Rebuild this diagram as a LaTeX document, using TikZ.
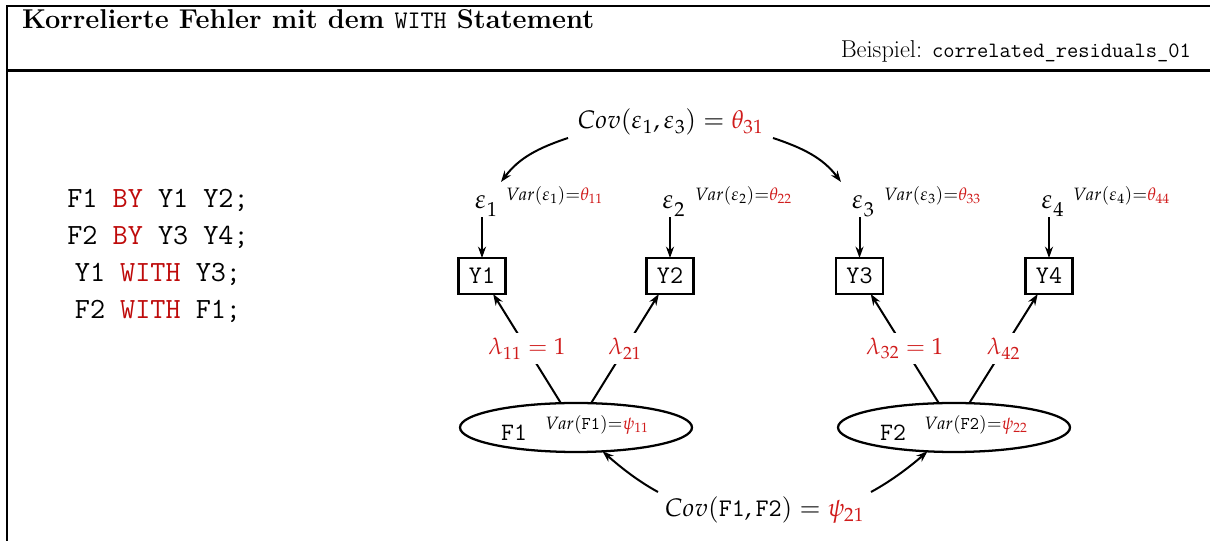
\documentclass[tikz,border=0pt]{standalone}
\usepackage{mathpazo}
\renewcommand{\rmdefault}{lmr}
\renewcommand{\ttdefault}{lmtt}
\usetikzlibrary{shapes.geometric,arrows.meta,calc}
\definecolor{codered}{RGB}{190,10,10}
\definecolor{parred}{RGB}{208,28,28}
\newcommand{\fsz}[1]{\fontsize{#1}{1.2\dimexpr #1\relax}\selectfont}
\begin{document}
\begin{tikzpicture}[x=0.75pt,y=0.75pt,
  every node/.style={inner sep=0pt, outer sep=0pt},
  frame/.style={line width=2.2pt},
  arr/.style={line width=1.5pt, -{Stealth[length=8.5pt,width=6pt]}},
  obs/.style={draw, line width=1.7pt, minimum width=35.25pt, minimum height=27pt,
    font=\fsz{19pt}\ttfamily},
  lat/.style={draw, ellipse, line width=1.7pt, minimum width=174pt, minimum height=36.75pt},
  lab/.style={fill=white, inner sep=4pt, text=parred, font=\fsz{17.5pt}},
  eps/.style={anchor=base west, font=\fsz{20pt}},
  var/.style={anchor=west, font=\fsz{13.4pt}},
  code/.style={font=\fsz{22pt}\ttfamily},
]
\useasboundingbox (0,0) rectangle (1210,541);

% frame and header
\draw[frame, line join=miter] (7,0) -- (7,535) -- (1210,535);
\draw[frame] (7,470.5) -- (1210,470.5);
\node[anchor=base west, font=\fsz{20.4pt}\bfseries] (title) at (22,512.7)
  {Korrelierte Fehler mit dem {\mdseries\fsz{19pt}\ttfamily WITH} Statement};
\node[anchor=base east, font=\fsz{18.3pt}] (bsp) at (1191,483.5)
  {Beispiel: {\fsz{16.4pt}\ttfamily correlated\_residuals\_01}};

% model syntax
\node[code] (c1) at (158,341) {F1 \textcolor{codered}{BY} Y1 Y2;};
\node[code] (c2) at (158,304) {F2 \textcolor{codered}{BY} Y3 Y4;};
\node[code] (c3) at (158,267) {Y1 \textcolor{codered}{WITH} Y3;};
\node[code] (c4) at (158,230) {F2 \textcolor{codered}{WITH} F1;};

% indicators
\node[obs] (y1) at (482,265) {Y1};
\node[obs] (y2) at (670,265) {Y2};
\node[obs] (y3) at (859.5,265) {Y3};
\node[obs] (y4) at (1049,265) {Y4};

% residuals
\newcommand{\epsi}[1]{$\varepsilon_{\lower3pt\hbox{$\scriptstyle #1$}}$}
\node[eps] (e1) at (475,332) {\epsi{1}};
\node[eps] (e2) at (662.5,332) {\epsi{2}};
\node[eps] (e3) at (852,332) {\epsi{3}};
\node[eps] (e4) at (1041.5,332) {\epsi{4}};
\node[var] (v1) at (506,345) {$Var(\varepsilon_1){=}\textcolor{parred}{\theta_{11}}$};
\node[var] (v2) at (695,345) {$Var(\varepsilon_2){=}\textcolor{parred}{\theta_{22}}$};
\node[var] (v3) at (884,345) {$Var(\varepsilon_3){=}\textcolor{parred}{\theta_{33}}$};
\node[var] (v4) at (1073,345) {$Var(\varepsilon_4){=}\textcolor{parred}{\theta_{44}}$};
\foreach \i in {1,2,3,4}
  \draw[arr] (e\i.south -| y\i.north) -- (y\i.north);

% residual covariance
\node[font=\fsz{19pt}] (cov1) at (670.5,419)
  {$Cov(\varepsilon_1,\varepsilon_3) = \textcolor{parred}{\theta_{31}}$};
\draw[arr] ($(cov1.center)+(-102.5,-16)$) .. controls +(-30,-10) and +(18,24) .. ($(e1.base west)+(26,27)$);
\draw[arr] ($(cov1.center)+(102.5,-16)$) .. controls +(30,-10) and +(-18,24) .. ($(e3.base west)+(-11,27)$);

% factors
\node[lat] (f1) at (576,113.5) {};
\node[lat] (f2) at (954,113.5) {};
\node[font=\fsz{18.75pt}\ttfamily] (f1t) at (514,108) {F1};
\node[font=\fsz{18.75pt}\ttfamily] (f2t) at (893,108) {F2};
\node[var, anchor=center] (f1v) at (597,116) {$Var(\texttt{F1}){=}\textcolor{parred}{\psi_{11}}$};
\node[var, anchor=center] (f2v) at (976,116) {$Var(\texttt{F2}){=}\textcolor{parred}{\psi_{22}}$};

% loadings
\draw[arr] (f1) -- node[lab] {$\lambda_{11} = 1$} (y1);
\draw[arr] (f1) -- node[lab] {$\lambda_{21}$} (y2);
\draw[arr] (f2) -- node[lab] {$\lambda_{32} = 1$} (y3);
\draw[arr] (f2) -- node[lab] {$\lambda_{42}$} (y4);

% factor covariance
\node[font=\fsz{19pt}] (cov2) at (764.5,31)
  {$Cov(\texttt{F1},\texttt{F2}) = \textcolor{parred}{\psi_{21}}$};
\draw[arr] ($(cov2.center)+(-106.5,18)$) .. controls +(-22,12) and +(16,-14) .. (f1.-42);
\draw[arr] ($(cov2.center)+(106.5,18)$) .. controls +(22,12) and +(-16,-14) .. (f2.-138);
\end{tikzpicture}
\end{document}
